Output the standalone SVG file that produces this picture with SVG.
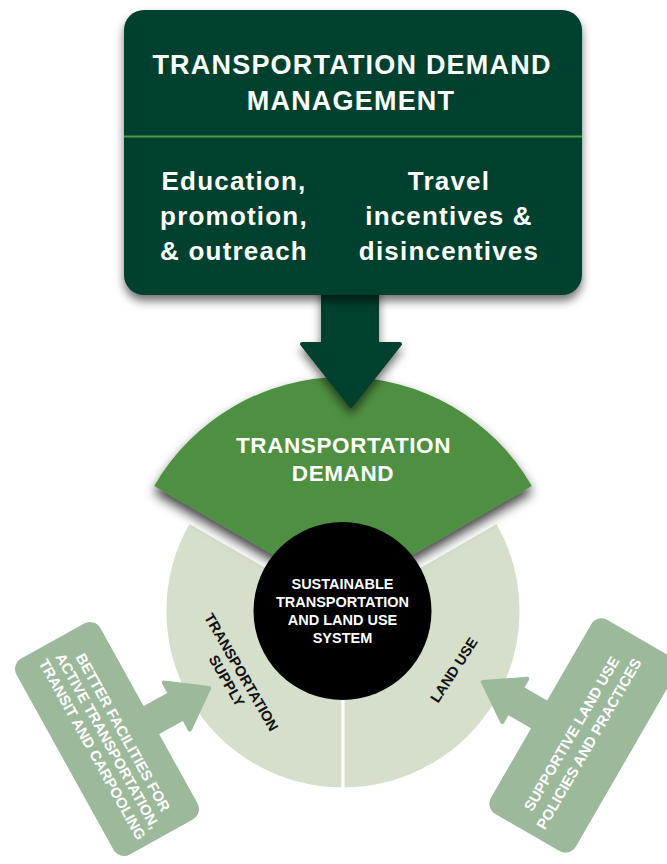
<svg xmlns="http://www.w3.org/2000/svg" width="667" height="864" viewBox="0 0 667 864">
<defs>
<style>
.t{font-family:"Liberation Sans",Arial,sans-serif;font-weight:bold;text-anchor:middle}
.w{fill:#fff}
.k{fill:#111}
.dk{fill:#03402e}
.sage{fill:#9cb99c;stroke:#9cb99c;stroke-width:4;stroke-linejoin:round}
.pale{fill:#d6dfcb;stroke:#fff;stroke-width:3;stroke-linejoin:miter}
</style>
<filter id="sh" x="-20%" y="-20%" width="140%" height="150%">
<feDropShadow dx="0" dy="6" stdDeviation="5" flood-color="#000" flood-opacity="0.55"/>
</filter>
<filter id="sh2" x="-20%" y="-20%" width="140%" height="150%">
<feDropShadow dx="0" dy="7" stdDeviation="6" flood-color="#000" flood-opacity="0.75"/>
</filter>
</defs>
<rect width="667" height="864" fill="#fff"/>

<g id="supply">
<path class="pale" d="M343 611 L188.8 522 A178 178 0 0 0 343 789 Z"/>
<g transform="translate(234,676.5) rotate(60)">
<text class="t k" x="0" y="-3.5" font-size="14.5">TRANSPORTATION</text>
<text class="t k" x="0" y="13.5" font-size="14.5">SUPPLY</text>
</g>
</g>

<g id="landuse">
<path class="pale" d="M343 611 L343 789 A178 178 0 0 0 497.2 522 Z"/>
<text class="t k" transform="translate(454,670) rotate(-57)" x="0" y="5" font-size="14.5">LAND USE</text>
</g>

<g id="demand">
<path d="M343 595 L154.2 486 A218 218 0 0 1 531.8 486 Z" fill="#508f42" filter="url(#sh2)"/>
<text class="t w" x="343.5" y="453" font-size="22.5" letter-spacing="0.6">TRANSPORTATION</text>
<text class="t w" x="343" y="481" font-size="22.5" letter-spacing="0.6">DEMAND</text>
</g>

<g id="system">
<circle cx="342.5" cy="611" r="89" fill="#000"/>
<text class="t w" x="342.5" y="589" font-size="14.5">SUSTAINABLE</text>
<text class="t w" x="342.5" y="607" font-size="14.5">TRANSPORTATION</text>
<text class="t w" x="342.5" y="625" font-size="14.5">AND LAND USE</text>
<text class="t w" x="342.5" y="643" font-size="14.5">SYSTEM</text>
</g>

<g id="connectors">
<g id="arrow-facilities" transform="translate(107,739) rotate(61)">
<path class="sage" d="M-9 -40 L-9 -77 L-22 -77 L5 -114 L32 -77 L19 -77 L19 -40 Z"/>
</g>
<g id="arrow-landuse-policies" transform="translate(583.5,735.5) rotate(-60)">
<path class="sage" d="M-18 -40 L-18 -77 L-29 -77 L-4 -114 L21 -77 L10 -77 L10 -40 Z"/>
</g>
<g id="arrow-tdm" filter="url(#sh)">
<path class="dk" d="M323 280 L377 280 L377 344 L400 344 L351 406 L302 344 L323 344 Z" stroke="#03402e" stroke-width="4" stroke-linejoin="round"/>
</g>
</g>

<g id="facilities">
<g transform="translate(107,739) rotate(61)">
<rect x="-112" y="-48" width="224" height="96" rx="12" fill="#9cb99c"/>
<text class="t w" x="2" y="-12" font-size="14.8">BETTER FACILITIES FOR</text>
<text class="t w" x="2" y="5.5" font-size="14.8">ACTIVE TRANSPORTATION,</text>
<text class="t w" x="2" y="23" font-size="14.8">TRANSIT AND CARPOOLING</text>
</g>
</g>

<g id="policies">
<g transform="translate(583.5,735.5) rotate(-60)">
<rect x="-112" y="-49" width="224" height="98" rx="12" fill="#9cb99c"/>
<text class="t w" x="-4.5" y="-6" font-size="14.8">SUPPORTIVE LAND USE</text>
<text class="t w" x="-4.5" y="14" font-size="14.8">POLICIES AND PRACTICES</text>
</g>
</g>

<g id="tdm">
<rect x="124" y="10" width="458" height="285" rx="20" class="dk" filter="url(#sh)"/>
<line x1="124" y1="136.5" x2="582" y2="136.5" stroke="#4f9a45" stroke-width="1.8"/>
<text class="t w" x="352" y="74" font-size="27" letter-spacing="1.2">TRANSPORTATION DEMAND</text>
<text class="t w" x="351" y="109.5" font-size="27" letter-spacing="1.2">MANAGEMENT</text>
<text class="t w" x="234" y="190" font-size="26" letter-spacing="1.2">Education,</text>
<text class="t w" x="234" y="225" font-size="26" letter-spacing="1.2">promotion,</text>
<text class="t w" x="234" y="260" font-size="26" letter-spacing="1.2">&amp; outreach</text>
<text class="t w" x="449" y="190" font-size="26" letter-spacing="1.2">Travel</text>
<text class="t w" x="449" y="225" font-size="26" letter-spacing="1.2">incentives &amp;</text>
<text class="t w" x="449" y="260" font-size="26" letter-spacing="1.2">disincentives</text>
</g>
</svg>
